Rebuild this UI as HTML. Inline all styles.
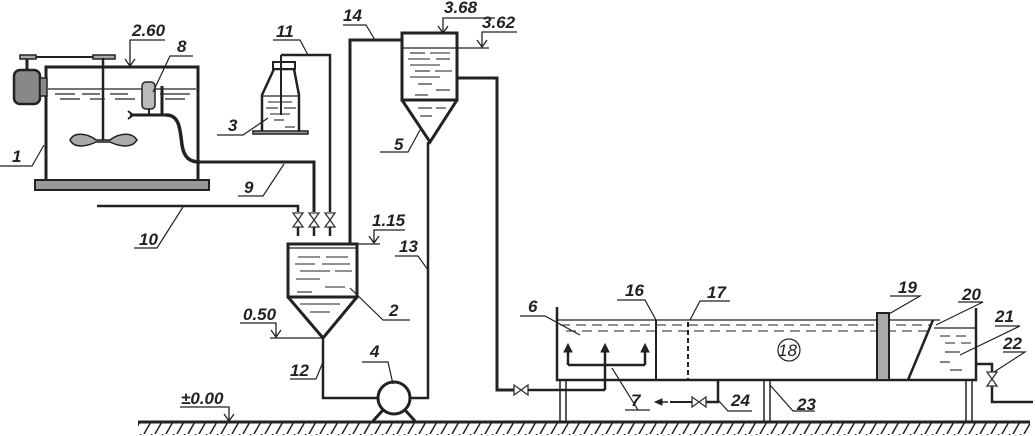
<!DOCTYPE html>
<html><head><meta charset="utf-8"><style>
html,body{margin:0;padding:0;background:#fff;}
svg{display:block;}
text{font-family:"Liberation Sans",sans-serif;font-weight:bold;font-style:italic;font-size:17px;fill:#222;}
</style></head><body>
<svg width="1035" height="436" viewBox="0 0 1035 436" xmlns="http://www.w3.org/2000/svg">
<defs>
<pattern id="hatch" width="11" height="14" patternUnits="userSpaceOnUse">
<line x1="9" y1="0" x2="1" y2="14" stroke="#222" stroke-width="1.5"/>
</pattern>
<g id="valveV"><path d="M-5,0 L5,0 L-5,14 L5,14 Z" fill="#fff" stroke="#333" stroke-width="1.3"/></g>
<g id="valveH"><path d="M0,-5 L0,5 L14,-5 L14,5 Z" fill="#fff" stroke="#333" stroke-width="1.3"/></g>
</defs>
<g stroke="#222" fill="none" stroke-linecap="butt">

<!-- ground -->
<line x1="138" y1="422" x2="1030" y2="422" stroke-width="3"/>
<rect x="138" y="423" width="892" height="12" fill="url(#hatch)" stroke="none"/>

<!-- Tank 1 -->
<path d="M46,180 L46,67 L198,67 L198,180" stroke-width="3"/>
<rect x="35" y="180" width="174" height="10" fill="#999" stroke-width="2"/>
<rect x="14" y="70" width="26" height="34" rx="6" fill="#888" stroke-width="2.5"/>
<rect x="40" y="78" width="7" height="18" fill="#888" stroke-width="1.5"/>
<line x1="27" y1="58" x2="27" y2="70" stroke-width="3"/>
<line x1="22" y1="57" x2="115" y2="57" stroke-width="2"/>
<rect x="20" y="55" width="16" height="4" fill="#aaa" stroke-width="1.5"/>
<rect x="93" y="55" width="22" height="4" fill="#aaa" stroke-width="1.5"/>
<line x1="103" y1="58" x2="103" y2="140" stroke-width="2.5"/>
<path d="M70,140 C75,130 90,135 96,140 L110,140 C116,135 131,130 137,140 C131,150 116,145 110,142 L96,142 C90,145 75,150 70,140 Z" fill="#aaa" stroke-width="1.5"/>
<line x1="48" y1="89" x2="196" y2="89" stroke-width="1.2"/>
<g stroke-width="1.2">
<line x1="55" y1="94" x2="75" y2="94"/><line x1="82" y1="94" x2="100" y2="94"/><line x1="110" y1="94" x2="128" y2="94"/><line x1="160" y1="94" x2="190" y2="94"/>
<line x1="60" y1="99" x2="80" y2="99"/><line x1="90" y1="99" x2="105" y2="99"/><line x1="115" y1="99" x2="135" y2="99"/><line x1="165" y1="99" x2="185" y2="99"/>
</g>
<rect x="142" y="82" width="13" height="27" rx="4" fill="#bbb" stroke-width="1.5"/>
<line x1="149" y1="109" x2="149" y2="115" stroke-width="2"/>
<line x1="162" y1="86" x2="162" y2="115" stroke-width="3"/>
<line x1="130" y1="115" x2="168" y2="115" stroke-width="3"/>
<path d="M128,111 L133,115 L128,119" stroke-width="2"/>
<path d="M166,115 C180,115 180,130 182,145 C184,158 190,162 200,162" stroke-width="3.5"/>

<!-- pipe 9 -->
<path d="M198,162 L314,162 L314,212" stroke-width="3"/>
<!-- pipe 10 -->
<path d="M97,206 L298,206 L298,212" stroke-width="2.5"/>
<!-- pipe 11 -->
<path d="M281,55 L330,55 L330,212" stroke-width="2.5"/>
<use href="#valveV" x="298" y="213"/><use href="#valveV" x="314" y="213"/><use href="#valveV" x="330" y="213"/>
<line x1="298" y1="227" x2="298" y2="236" stroke-width="2.5"/>
<line x1="314" y1="227" x2="314" y2="236" stroke-width="2.5"/>
<line x1="330" y1="227" x2="330" y2="236" stroke-width="2.5"/>

<!-- bottle 3 -->
<rect x="253" y="131" width="55" height="3" fill="#999" stroke-width="1.5"/>
<path d="M262,131 L262,95 L274,69 L294,69 L299,95 L299,131" stroke-width="2.5"/>
<rect x="273" y="62" width="22" height="7" fill="#fff" stroke-width="2"/>
<line x1="262" y1="96" x2="299" y2="96" stroke-width="1.2"/>
<line x1="281" y1="55" x2="281" y2="115" stroke-width="2"/>
<g stroke-width="1.1"><line x1="268" y1="102" x2="292" y2="102"/><line x1="266" y1="108" x2="278" y2="108"/><line x1="284" y1="108" x2="296" y2="108"/><line x1="270" y1="114" x2="290" y2="114"/><line x1="274" y1="120" x2="284" y2="120"/><line x1="285" y1="127" x2="295" y2="127"/></g>

<!-- Tank 2 -->
<path d="M288,297 L288,244 L357,244 L357,297 Z" stroke-width="3"/>
<line x1="288" y1="248" x2="357" y2="248" stroke-width="1.2"/>
<line x1="357" y1="244" x2="380" y2="244" stroke-width="1.2"/>
<path d="M288,297 L323,338 L357,297" stroke-width="3"/>
<g stroke-width="1.1"><line x1="298" y1="257" x2="320" y2="257"/><line x1="326" y1="257" x2="348" y2="257"/><line x1="295" y1="264" x2="315" y2="264"/><line x1="322" y1="264" x2="350" y2="264"/><line x1="300" y1="271" x2="330" y2="271"/><line x1="335" y1="271" x2="352" y2="271"/><line x1="296" y1="279" x2="320" y2="279"/><line x1="325" y1="287" x2="345" y2="287"/><line x1="297" y1="292" x2="312" y2="292"/><line x1="300" y1="304" x2="340" y2="304"/><line x1="310" y1="312" x2="330" y2="312"/></g>
<!-- pipe 14 -->
<path d="M350,244 L350,40 L402,40" stroke-width="3"/>
<!-- pipe 12 and pump -->
<path d="M323,338 L323,398 L378,398" stroke-width="2.5"/>
<circle cx="394" cy="398" r="16" stroke-width="3" fill="#fff"/>
<path d="M383,410 L373,421 M405,410 L415,421" stroke-width="3"/>
<path d="M410,398 L428,398 L428,142" stroke-width="2.5"/>

<!-- Tank 5 -->
<rect x="402" y="33" width="55" height="67" stroke-width="3"/>
<line x1="402" y1="48" x2="489" y2="48" stroke-width="1.2"/>
<path d="M402,100 L430,142 L457,100" stroke-width="3"/>
<g stroke-width="1.1"><line x1="410" y1="53" x2="425" y2="53"/><line x1="430" y1="53" x2="450" y2="53"/><line x1="408" y1="59" x2="430" y2="59"/><line x1="436" y1="59" x2="450" y2="59"/><line x1="410" y1="65" x2="440" y2="65"/><line x1="415" y1="71" x2="430" y2="71"/><line x1="435" y1="71" x2="452" y2="71"/><line x1="410" y1="77" x2="440" y2="77"/><line x1="418" y1="84" x2="432" y2="84"/><line x1="436" y1="90" x2="450" y2="90"/><line x1="415" y1="95" x2="428" y2="95"/><line x1="418" y1="108" x2="432" y2="108"/><line x1="436" y1="108" x2="446" y2="108"/><line x1="420" y1="116" x2="432" y2="116"/></g>
<!-- outlet pipe to basin -->
<path d="M457,78 L497,78 L497,390 L514,390" stroke-width="3"/>
<use href="#valveH" x="514" y="390"/>
<line x1="528" y1="390" x2="560" y2="390" stroke-width="2.5"/>

<!-- basin -->
<path d="M557,307 L557,380 L976,380 L976,308" stroke-width="2.5"/>
<line x1="656" y1="320" x2="656" y2="380" stroke-width="2"/>
<line x1="688" y1="322" x2="688" y2="380" stroke-width="2" stroke-dasharray="5,3"/>
<line x1="557" y1="320" x2="940" y2="320" stroke-width="1.2"/>
<line x1="934" y1="328" x2="976" y2="328" stroke-width="1.2"/>
<g stroke-width="1.1" stroke-dasharray="10,6">
<line x1="560" y1="325" x2="930" y2="325"/><line x1="566" y1="331" x2="930" y2="331"/><line x1="940" y1="336" x2="972" y2="336"/><line x1="945" y1="343" x2="972" y2="343"/>
</g>
<g stroke-width="1.1"><line x1="945" y1="352" x2="960" y2="352"/><line x1="940" y1="362" x2="950" y2="362"/><line x1="950" y1="370" x2="962" y2="370"/></g>
<rect x="877" y="313" width="12" height="67" fill="#aaa" stroke-width="2"/>
<line x1="908" y1="380" x2="933" y2="320" stroke-width="2.5"/>
<!-- legs -->
<g stroke-width="1.5">
<line x1="560" y1="380" x2="560" y2="421"/><line x1="566" y1="380" x2="566" y2="421"/>
<line x1="764" y1="380" x2="764" y2="421"/><line x1="770" y1="380" x2="770" y2="421"/>
<line x1="966" y1="380" x2="966" y2="421"/><line x1="972" y1="380" x2="972" y2="421"/>
</g>
<!-- distributor 7 -->
<path d="M568,365 L645,365" stroke-width="2.5"/>
<path d="M568,365 L568,350 M605,390 L605,350 M645,365 L645,350" stroke-width="2.5"/>
<path d="M564,352 L568,344 L572,352 Z M601,352 L605,344 L609,352 Z M641,352 L645,344 L649,352 Z" fill="#222" stroke-width="1"/>
<line x1="560" y1="390" x2="605" y2="390" stroke-width="2.5"/>
<!-- pipe 24 -->
<path d="M718,380 L718,402 L706,402" stroke-width="2.5"/>
<use href="#valveH" x="692" y="402"/>
<line x1="670" y1="402" x2="692" y2="402" stroke-width="2"/>
<line x1="662" y1="402" x2="668" y2="402" stroke-width="1.5"/>
<path d="M662,399 L655,402 L662,405 Z" fill="#222" stroke-width="1"/>
<!-- outlet 22 -->
<path d="M976,364 L992,364 L992,372" stroke-width="2.5"/>
<use href="#valveV" x="992" y="372"/>
<path d="M992,386 L992,402 L1033,402" stroke-width="2.5"/>

<!-- level marks -->
<g stroke-width="1.3">
<path d="M130,66 L130,40 L165,40 M125,59 L130,66 L135,59"/>
<path d="M443,33 L443,18 L495,18 M438,26 L443,33 L448,26"/>
<path d="M482,47 L482,32 L517,32 M477,40 L482,47 L487,40"/>
<path d="M374,243 L374,230 L405,230 M369,236 L374,243 L379,236"/>
<path d="M276,337 L276,323 L240,323 M271,330 L276,337 L281,330 M270,338 L323,338"/>
<path d="M229,421 L229,407 L180,407 M224,414 L229,421 L234,414"/>
</g>
<!-- leader lines -->
<g stroke-width="1.2">
<path d="M0,166 L32,166 L44,145"/>
<path d="M193,56 L170,56 L153,92"/>
<path d="M217,135 L243,135 L268,118"/>
<path d="M238,196 L263,196 L284,164"/>
<path d="M134,248 L157,248 L183,207"/>
<path d="M273,40 L300,40 L308,55"/>
<path d="M343,25 L366,25 L375,40"/>
<path d="M380,152 L408,152 L420,130"/>
<path d="M410,320 L383,320 L350,288"/>
<path d="M395,256 L418,256 L428,270"/>
<path d="M290,379 L316,379 L323,362"/>
<path d="M362,362 L388,362 L393,384"/>
<path d="M520,316 L545,316 L580,335"/>
<path d="M617,300 L645,300 L656,320"/>
<path d="M730,301 L700,301 L690,320"/>
<path d="M650,410 L625,410 M638,410 L612,368"/>
<path d="M718,400 L728,411 L752,411"/>
<path d="M770,385 L793,411 L815,411"/>
<path d="M890,296 L920,296 L889,314"/>
<path d="M958,302 L983,302 L936,325"/>
<path d="M995,326 L1020,326 L960,355"/>
<path d="M1003,352 L1025,352 L994,372"/>
</g>
</g>
<!-- labels -->
<text x="12" y="162">1</text>
<text x="389" y="316">2</text>
<text x="228" y="131">3</text>
<text x="370" y="357">4</text>
<text x="394" y="150">5</text>
<text x="528" y="312">6</text>
<text x="631" y="406">7</text>
<text x="177" y="52">8</text>
<text x="244" y="193">9</text>
<text x="139" y="245">10</text>
<text x="276" y="37">11</text>
<text x="290" y="376">12</text>
<text x="399" y="252">13</text>
<text x="343" y="21">14</text>
<text x="625" y="296">16</text>
<text x="707" y="298">17</text>
<text x="778" y="356" style="font-weight:normal">18</text>
<text x="898" y="293">19</text>
<text x="962" y="300">20</text>
<text x="995" y="322">21</text>
<text x="1003" y="349">22</text>
<text x="797" y="410">23</text>
<text x="731" y="406">24</text>
<text x="132" y="36">2.60</text>
<text x="444" y="13">3.68</text>
<text x="482" y="28">3.62</text>
<text x="372" y="226">1.15</text>
<text x="243" y="320">0.50</text>
<text x="181" y="404">±0.00</text>
<circle cx="789" cy="350" r="11" fill="none" stroke="#222" stroke-width="1.2"/>
</svg>
</body></html>
